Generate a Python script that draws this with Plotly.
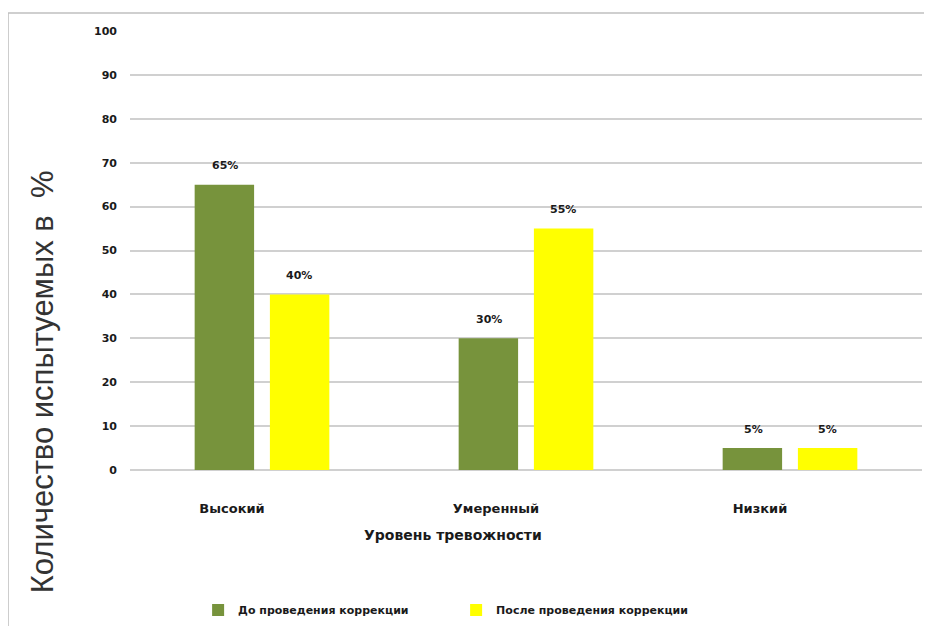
import plotly.graph_objects as go

categories = ["Высокий", "Умеренный", "Низкий"]
before = [65, 30, 5]
after = [40, 55, 5]
series_names = ["До проведения коррекции", "После проведения коррекции"]
y_ticks = [0, 10, 20, 30, 40, 50, 60, 70, 80, 90, 100]

GREEN = "#77933c"
YELLOW = "#ffff00"
FONT = "DejaVu Sans"
TXT = "#1a1a1a"

fig = go.Figure()
fig.add_trace(go.Bar(x=categories, y=before, name=series_names[0],
                     marker=dict(color=GREEN, line=dict(width=0))))
fig.add_trace(go.Bar(x=categories, y=after, name=series_names[1],
                     marker=dict(color=YELLOW, line=dict(width=0))))

annotations = []
for i, vals in enumerate([before, after]):
    for c, v in zip(categories, vals):
        annotations.append(dict(
            x=c, y=v, xref="x", yref="y", text=f"<b>{v}%</b>",
            showarrow=False, yshift=19,
            xshift=(-37 if i == 0 else 37),
            font=dict(family=FONT, size=11, color=TXT)))

annotations.append(dict(
    x=-0.111, y=0.2, xref="paper", yref="paper", xanchor="center", yanchor="middle",
    text="Количество испытуемых в  %",
    textangle=-90, showarrow=False,
    font=dict(family="Liberation Sans", size=31, color="#333333")))
annotations.append(dict(
    x=0.408, y=-0.148, xref="paper", yref="paper", xanchor="center", yanchor="middle",
    text="<b>Уровень тревожности</b>",
    showarrow=False, font=dict(family=FONT, size=14, color=TXT)))

fig.update_layout(
    width=924, height=618,
    paper_bgcolor="white", plot_bgcolor="white",
    margin=dict(l=122, r=10, t=23, b=156, autoexpand=False),
    barmode="group", bargap=0.43, bargroupgap=0.21,
    annotations=annotations,
    showlegend=True,
    legend=dict(orientation="h", x=0.086, y=0.026, yref="container",
                xanchor="left", yanchor="middle",
                font=dict(family=FONT, size=11, color=TXT, weight="bold"),
                itemwidth=30, entrywidthmode="pixels", entrywidth=213,
                traceorder="normal"),
    shapes=[
        dict(type="line", xref="paper", yref="paper", x0=-0.154, x1=1.02, y0=1.041, y1=1.041,
             line=dict(color="#bfbfbf", width=1.5)),
        dict(type="line", xref="paper", yref="paper", x0=-0.154, x1=-0.154, y0=1.041, y1=-0.36,
             line=dict(color="#bfbfbf", width=1.5)),
    ],
)
fig.update_xaxes(showgrid=False, showline=False, zeroline=False,
                 tickfont=dict(family=FONT, size=13, color=TXT),
                 ticklabelshift=-30, ticklabelstandoff=29, automargin=False,
                 tickvals=categories, ticktext=[f"<b>{c}</b>" for c in categories])
fig.update_yaxes(range=[0, 100], tickvals=y_ticks,
                 ticktext=[f"<b>{t}</b>" for t in y_ticks],
                 showgrid=True, gridcolor="#d0d0d0", gridwidth=1.5,
                 zeroline=True, zerolinecolor="#d0d0d0", zerolinewidth=1.5,
                 showline=False, ticklabelstandoff=12, automargin=False,
                 tickfont=dict(family=FONT, size=11, color=TXT))

fig.write_html("out.html")
